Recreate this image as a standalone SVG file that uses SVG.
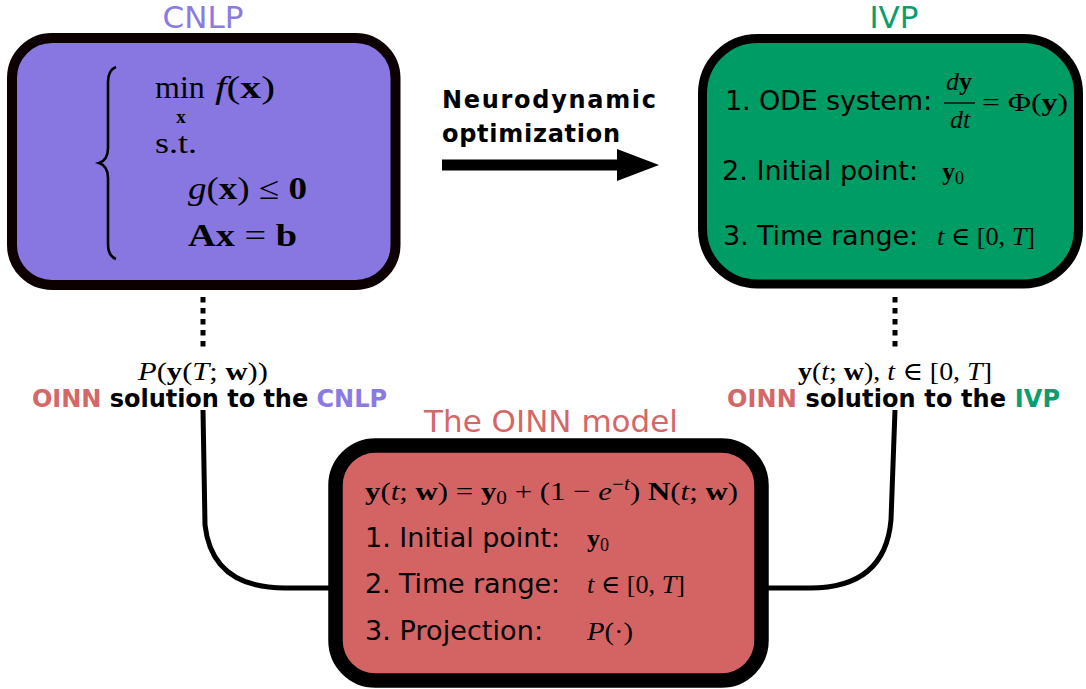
<svg xmlns="http://www.w3.org/2000/svg" width="1086" height="689" viewBox="0 0 1086 689">
<style>
.sans{font-family:"DejaVu Sans",Verdana,sans-serif}
.m{font-family:"Liberation Serif","DejaVu Serif",serif;fill:#000}
.b{font-weight:bold}
.i{font-style:italic}
.item{font-family:"DejaVu Sans",Verdana,sans-serif;font-size:27px;fill:#000}
.title{font-family:"DejaVu Sans",Verdana,sans-serif;font-size:31px;text-anchor:middle}
.lbl{font-family:"DejaVu Sans",Verdana,sans-serif;font-size:24px;font-weight:bold;fill:#000}
.red{fill:#d46767}
.pur{fill:#8a7ae2}
.grn{fill:#0b9e6c}
.conn{fill:none;stroke:#000;stroke-width:5}
.dot{fill:none;stroke:#000;stroke-width:5;stroke-dasharray:5.5 5.5}
</style>
<defs>
<marker id="ah" markerUnits="userSpaceOnUse" markerWidth="44" markerHeight="34" refX="2" refY="16" orient="auto">
<path d="M0,0 L42,16 L0,32 Z" fill="#000"/>
</marker>
</defs>

<g id="cnlp">
<text class="title pur" x="203" y="28">CNLP</text>
<rect x="12" y="38" width="383.5" height="247" rx="40" fill="#8877e0" stroke="#0d0000" stroke-width="10"/>
<path d="M116,67 Q108,70 108,82 L108,148 Q108,160 99,163 Q108,166 108,178 L108,244 Q108,256 116,259" fill="none" stroke="#000" stroke-width="2.6"/>
<text class="m" x="155" y="98" font-size="32">min</text>
<text class="m b" x="181" y="123" font-size="19" text-anchor="middle">x</text>
<text class="m" x="215" y="98" font-size="32" textLength="60" lengthAdjust="spacingAndGlyphs"><tspan class="i">f</tspan>(<tspan class="b">x</tspan>)</text>
<text class="m" x="155" y="153" font-size="29" textLength="42" lengthAdjust="spacingAndGlyphs">s.t.</text>
<text class="m" x="188" y="199" font-size="32" textLength="119" lengthAdjust="spacingAndGlyphs"><tspan class="i">g</tspan>(<tspan class="b">x</tspan>) ≤ <tspan class="b">0</tspan></text>
<text class="m" x="188" y="246" font-size="32" textLength="109" lengthAdjust="spacingAndGlyphs"><tspan class="b">Ax</tspan> = <tspan class="b">b</tspan></text>
</g>

<g id="ivp">
<text class="title grn" x="894" y="28">IVP</text>
<rect x="702.5" y="38.5" width="376" height="245.5" rx="55" fill="#009c66" stroke="#000" stroke-width="9"/>
<text class="item" x="725" y="110" textLength="207">1. ODE system:</text>
<text class="m" x="959" y="90" font-size="26" text-anchor="middle"><tspan class="i">d</tspan><tspan class="b">y</tspan></text>
<line x1="944" y1="103" x2="975" y2="103" stroke="#000" stroke-width="1.3"/>
<text class="m i" x="960" y="128" font-size="26" text-anchor="middle">dt</text>
<text class="m" x="982" y="111" font-size="26" textLength="86" lengthAdjust="spacingAndGlyphs">= Φ(<tspan class="b">y</tspan>)</text>
<text class="item" x="722" y="180" textLength="196">2. Initial point:</text>
<text class="m" x="942" y="180" font-size="26"><tspan class="b">y</tspan><tspan dy="4" font-size="18">0</tspan></text>
<text class="item" x="723" y="245" textLength="195">3. Time range:</text>
<text class="m" x="937" y="245" font-size="26" textLength="98" lengthAdjust="spacingAndGlyphs"><tspan class="i">t</tspan> ∈ [0, <tspan class="i">T</tspan>]</text>
</g>

<g id="oinn">
<text class="title red" x="551" y="432">The OINN model</text>
<rect x="335.5" y="445.5" width="426" height="235" rx="40" fill="#d46464" stroke="#000" stroke-width="14.5"/>
<text class="m" x="365" y="500" font-size="26" textLength="373" lengthAdjust="spacingAndGlyphs"><tspan class="b">y</tspan>(<tspan class="i">t</tspan>; <tspan class="b">w</tspan>) = <tspan class="b">y</tspan><tspan dy="4" font-size="18">0</tspan><tspan dy="-4"> + (1 − </tspan><tspan class="i">e</tspan><tspan dy="-10" font-size="18">−<tspan class="i">t</tspan></tspan><tspan dy="10">) </tspan><tspan class="b">N</tspan>(<tspan class="i">t</tspan>; <tspan class="b">w</tspan>)</text>
<text class="item" x="365" y="547" textLength="195">1. Initial point:</text>
<text class="m" x="587" y="547" font-size="26"><tspan class="b">y</tspan><tspan dy="4" font-size="18">0</tspan></text>
<text class="item" x="365" y="593" textLength="195">2. Time range:</text>
<text class="m" x="587" y="593" font-size="26" textLength="98" lengthAdjust="spacingAndGlyphs"><tspan class="i">t</tspan> ∈ [0, <tspan class="i">T</tspan>]</text>
<text class="item" x="365" y="640" textLength="178">3. Projection:</text>
<text class="m" x="587" y="640" font-size="26" textLength="46" lengthAdjust="spacingAndGlyphs"><tspan class="i">P</tspan>(·)</text>
</g>

<g id="connectors">
<text class="lbl" x="442" y="108" font-size="26" textLength="214">Neurodynamic</text>
<text class="lbl" x="442" y="142" font-size="26" textLength="178">optimization</text>
<line x1="442" y1="165" x2="619" y2="165" stroke="#000" stroke-width="11" marker-end="url(#ah)"/>
<line class="dot" x1="203" y1="297" x2="203" y2="352"/>
<line class="dot" x1="895" y1="297" x2="895" y2="352"/>
<text class="m" x="203" y="380" font-size="26" text-anchor="middle" textLength="130" lengthAdjust="spacingAndGlyphs"><tspan class="i">P</tspan>(<tspan class="b">y</tspan>(<tspan class="i">T</tspan>; <tspan class="b">w</tspan>))</text>
<text class="m" x="798" y="380" font-size="26" textLength="194" lengthAdjust="spacingAndGlyphs"><tspan class="b">y</tspan>(<tspan class="i">t</tspan>; <tspan class="b">w</tspan>), <tspan class="i">t</tspan> ∈ [0, <tspan class="i">T</tspan>]</text>
<text class="lbl" x="32" y="407" textLength="355"><tspan class="red">OINN</tspan> solution to the <tspan class="pur">CNLP</tspan></text>
<text class="lbl" x="727" y="407" textLength="333"><tspan class="red">OINN</tspan> solution to the <tspan class="grn">IVP</tspan></text>
<path class="conn" d="M203,410 L205,525 Q212,588 285,588 L332,588"/>
<path class="conn" d="M895,410 L891,520 Q885,588 810,588 L766,588"/>
</g>
</svg>
